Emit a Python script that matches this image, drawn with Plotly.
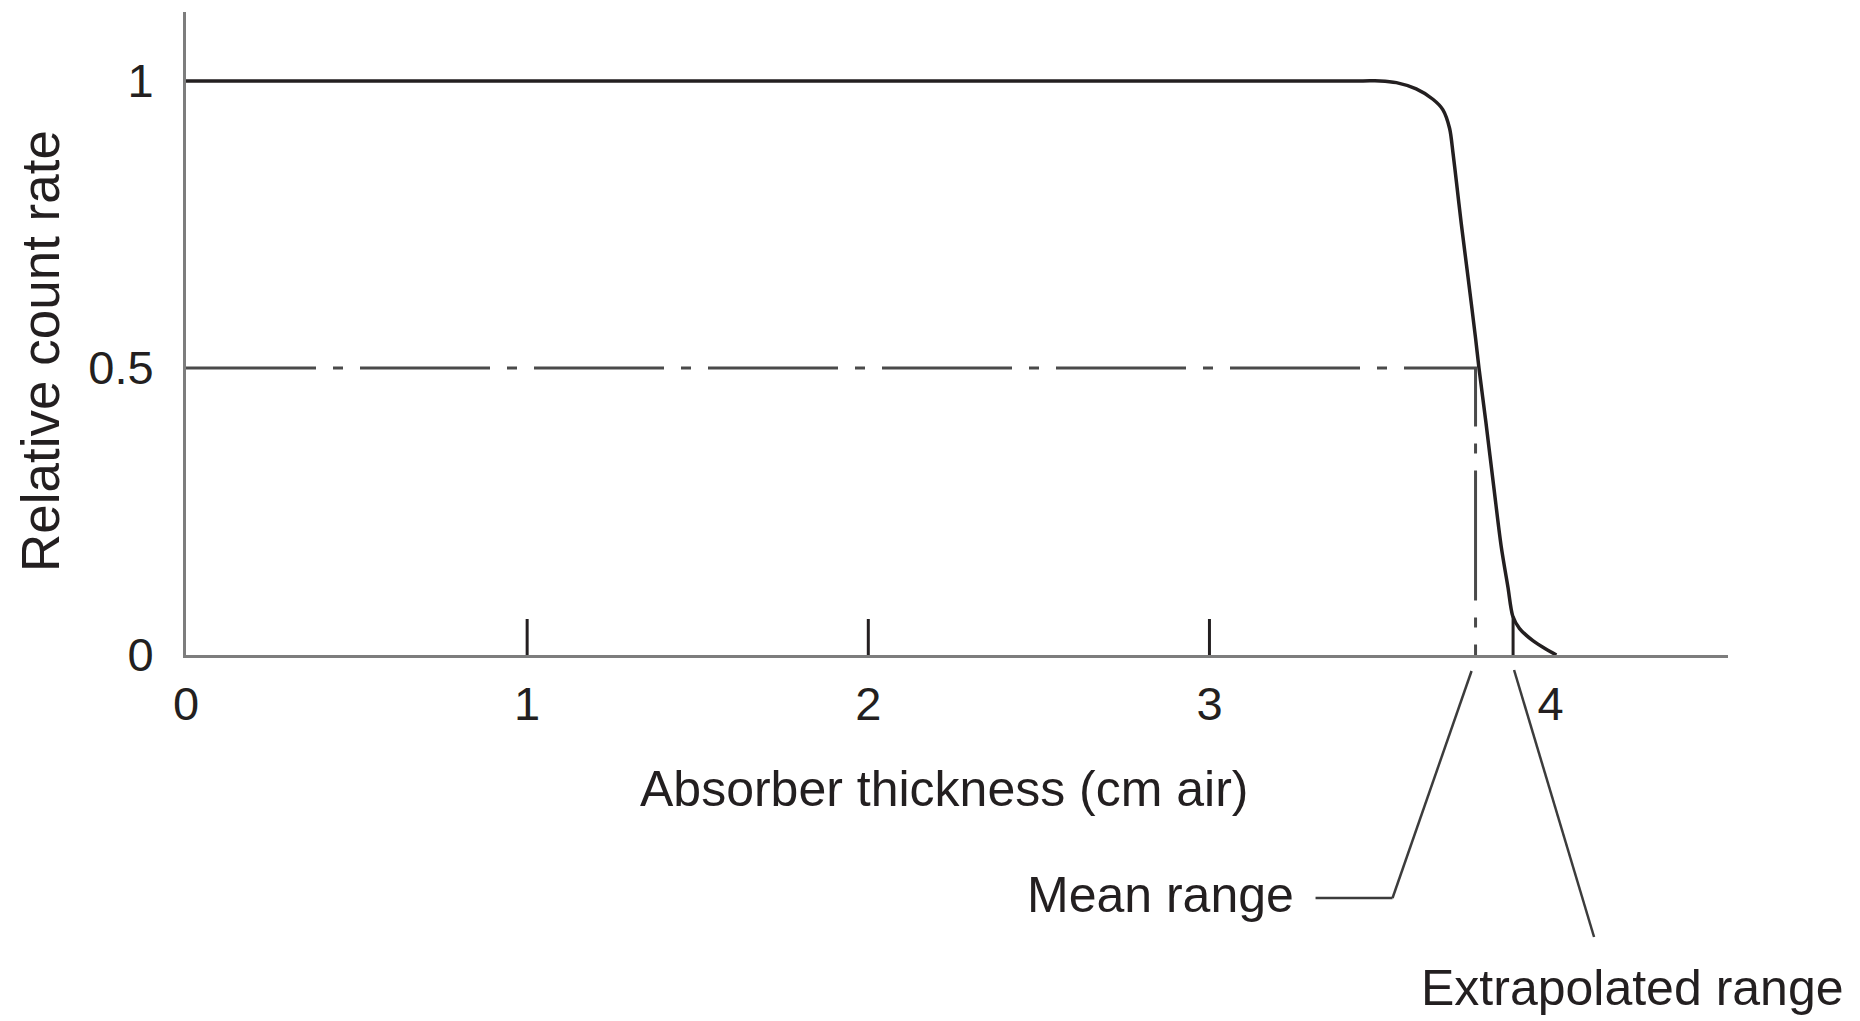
import numpy as np
import plotly.graph_objects as go

# Range curve for alpha particles in air: relative count rate vs absorber thickness
thickness_cm = [0.0, 1.0, 2.0, 3.0, 3.45, 3.5, 3.548, 3.606, 3.655, 3.684, 3.704, 3.714,
                3.724, 3.738, 3.758, 3.78, 3.79, 3.81, 3.834, 3.855, 3.875, 3.889,
                3.909, 3.948, 3.987, 4.017]
relative_rate = [1.0, 1.0, 1.0, 1.0, 1.0, 1.0, 0.997, 0.986, 0.968, 0.950, 0.917, 0.874,
                 0.824, 0.752, 0.658, 0.552, 0.5, 0.407, 0.29, 0.190, 0.118, 0.068,
                 0.046, 0.025, 0.010, 0.0]

mean_range = 3.78          # thickness where the count rate falls to one half
extrapolated_range = 3.89  # straight part of the curve extended to zero
half_rate = 0.5

x_tick_vals = [0, 1, 2, 3, 4]
x_tick_text = ["0", "1", "2", "3", "4"]
x_tick_marks = [1, 2, 3]
y_tick_vals = [0, 0.5, 1]
y_tick_text = ["0", "0.5", "1"]

X_RANGE = [0, 4.52]
Y_RANGE = [0, 1.12]

W, H = 1860, 1021
M_L, M_R, M_T, M_B = 186, 132, 12, 366
PLOT_W = W - M_L - M_R
PLOT_H = H - M_T - M_B

FONT = "Liberation Sans, Arial, sans-serif"
INK = "#231f20"
AXIS_GREY = "#7d7d7d"


def xp(v):
    """Data x -> paper x."""
    return (v - X_RANGE[0]) / (X_RANGE[1] - X_RANGE[0])


def off(anchor_x, dx_px, dy_px):
    """Point offset in pixels from (data x, bottom axis); dy_px grows downward."""
    return xp(anchor_x) + dx_px / PLOT_W, -dy_px / PLOT_H


fig = go.Figure()

# count-rate curve
fig.add_trace(go.Scatter(
    x=thickness_cm, y=relative_rate, mode="lines",
    line=dict(color=INK, width=3.5, shape="spline", smoothing=0.8),
    cliponaxis=False, hoverinfo="skip", showlegend=False,
))

# half-rate construction line down to the mean range
fig.add_trace(go.Scatter(
    x=[0, mean_range, mean_range], y=[half_rate, half_rate, 0], mode="lines",
    line=dict(color="#4a4a4a", width=3, dash="130px,17px,10px,17px"),
    cliponaxis=False, hoverinfo="skip", showlegend=False,
))

# short marker at the extrapolated range
y_at_extrap = float(np.interp(extrapolated_range, thickness_cm, relative_rate))
fig.add_trace(go.Scatter(
    x=[extrapolated_range, extrapolated_range], y=[0, y_at_extrap], mode="lines",
    line=dict(color=INK, width=3),
    cliponaxis=False, hoverinfo="skip", showlegend=False,
))

# upward tick marks on the thickness axis
tick_len = 36 / PLOT_H * (Y_RANGE[1] - Y_RANGE[0])
tx, ty = [], []
for t in x_tick_marks:
    tx += [t, t, None]
    ty += [0, tick_len, None]
fig.add_trace(go.Scatter(
    x=tx, y=ty, mode="lines", line=dict(color=INK, width=3),
    cliponaxis=False, hoverinfo="skip", showlegend=False,
))

# leader lines for the two range labels
leaders = [
    [off(mean_range, -4, 16), off(mean_range, -83, 243), off(mean_range, -160, 243)],
    [off(extrapolated_range, 1, 15), off(extrapolated_range, 81, 282)],
]
shapes = []
for pts in leaders:
    for (x0, y0), (x1, y1) in zip(pts[:-1], pts[1:]):
        shapes.append(dict(type="line", xref="paper", yref="paper",
                           x0=x0, y0=y0, x1=x1, y1=y1,
                           line=dict(color="#3c3c3c", width=2.5)))

mx, my = off(mean_range, -180, 240)
ex, ey = off(extrapolated_range, -94, 333)
annotations = [
    dict(text="Mean range", xref="paper", yref="paper", x=mx, y=my,
         xanchor="right", yanchor="middle", showarrow=False,
         font=dict(family=FONT, size=50, color=INK)),
    dict(text="Extrapolated range", xref="paper", yref="paper", x=ex, y=ey,
         xanchor="left", yanchor="middle", showarrow=False,
         font=dict(family=FONT, size=50, color=INK)),
    dict(text="Absorber thickness (cm air)", xref="paper", yref="paper",
         x=(944 - M_L) / PLOT_W, y=-(789 - (H - M_B)) / PLOT_H,
         xanchor="center", yanchor="middle", showarrow=False,
         font=dict(family=FONT, size=50, color=INK)),
    dict(text="Relative count rate", xref="paper", yref="paper",
         x=-(M_L - 40) / PLOT_W, y=((H - M_B) - 351) / PLOT_H,
         xanchor="center", yanchor="middle", textangle=-90, showarrow=False,
         font=dict(family=FONT, size=53, color=INK)),
]

fig.update_layout(
    width=W, height=H,
    margin=dict(l=M_L, r=M_R, t=M_T, b=M_B, pad=0),
    paper_bgcolor="white", plot_bgcolor="white",
    shapes=shapes, annotations=annotations,
    xaxis=dict(range=X_RANGE, tickvals=x_tick_vals, ticktext=x_tick_text,
               showgrid=False, zeroline=False, showline=True,
               linecolor=AXIS_GREY, linewidth=3, ticks="",
               ticklabelstandoff=6,
               tickfont=dict(family=FONT, size=47, color=INK)),
    yaxis=dict(range=Y_RANGE, tickvals=y_tick_vals, ticktext=y_tick_text,
               showgrid=False, zeroline=False, showline=True,
               linecolor=AXIS_GREY, linewidth=3, ticks="",
               ticklabelstandoff=20,
               tickfont=dict(family=FONT, size=47, color=INK)),
)

fig.write_html("out.html")
